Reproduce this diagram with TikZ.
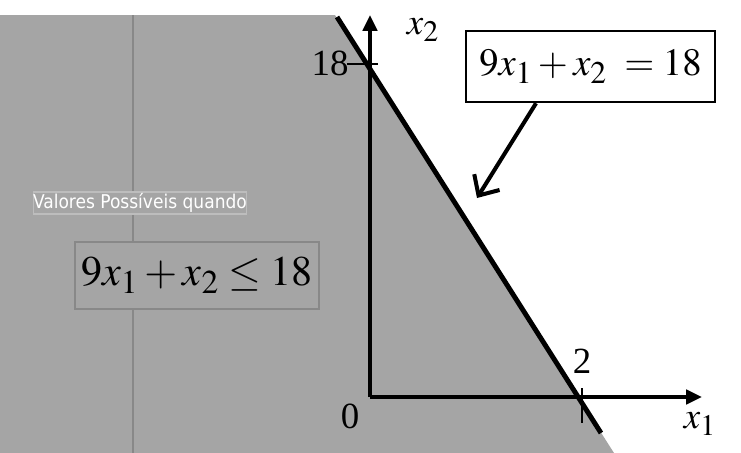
\documentclass[tikz,border=0pt]{standalone}
\usepackage{mathptmx}
\usepackage{fontspec}
\setmainfont{Liberation Serif}
\newfontfamily\notefont{DejaVu Sans Condensed}
\usetikzlibrary{arrows.meta}

\DeclareMathSizes{21}{21}{17}{13}
\DeclareMathSizes{22}{22}{18}{14}
\DeclareMathSizes{24}{24}{19}{14}

\definecolor{regiongray}{HTML}{A5A5A5}
\definecolor{edgegray}{HTML}{888888}
\definecolor{notegray}{HTML}{BDBDBD}

\begin{document}
\begin{tikzpicture}[
    x=0.02cm, y=-0.02cm,
    every node/.style={align=center},
    axis/.style={line width=2.6pt, -{Triangle[length=9pt, width=8pt]}},
    bound/.style={line width=2.8pt},
    tickmark/.style={line width=1.4pt},
    callout/.style={line width=2.3pt, -{Straight Barb[length=9pt, width=17pt, line width=2.3pt]}},
    lbl/.style={inner sep=0pt, font=\fontsize{21}{24}\selectfont},
    eqbox/.style={rectangle, draw=black, line width=1.4pt, fill=white, minimum width=4.98cm, minimum height=1.42cm, inner sep=0pt, font=\fontsize{22}{26}\selectfont},
    regionbox/.style={rectangle, draw=edgegray, line width=0.6pt, fill=regiongray, minimum width=4.88cm, minimum height=1.34cm, inner sep=0pt, font=\fontsize{24}{28}\selectfont},
    note/.style={rectangle, draw=notegray, line width=0.6pt, fill=regiongray, text=white, minimum width=4.16cm, minimum height=0.44cm, inner sep=0pt, font=\notefont\fontsize{10.8}{12}\selectfont}
]
\useasboundingbox (0,0) rectangle (741,453);

% feasible region
\fill[regiongray] (0,15) -- (335,15) -- (614,453) -- (0,453) -- cycle;
\draw[edgegray, line width=0.6pt] (133,15) -- (133,453);

% region labels
\node[note] (valores) at (140,203) {Valores Possíveis quando};
\node[regionbox] (ineq) at (197,275.5) {$9x_1 + x_2 \leq 18$};

% axes
\coordinate (O) at (370,397);
\coordinate (xend) at (702,397);
\coordinate (yend) at (370,15);
\draw[axis] (O) -- (xend);
\draw[axis] (O) -- (yend);

% ticks
\draw[tickmark] (347,64) -- (378,64);
\draw[tickmark] (582,388) -- (582,423);

% constraint line
\coordinate (ltop) at (337,17);
\coordinate (lbot) at (601,433);
\draw[bound] (ltop) -- (lbot);

% axis labels
\node[lbl] (l18) at (330,63) {18};
\node[lbl] (l0) at (350,416) {0};
\node[lbl] (l2) at (582,361) {2};
\node[lbl] (lx2) at (423,30) {$x_2$};
\node[lbl] (lx1) at (700,424) {$x_1$};

% equation callout
\node[eqbox] (eq) at (590.5,66.5) {$9x_1 + x_2 \;= 18$};
\coordinate (tip) at (477,198);
\draw[callout] (eq.214) -- (tip);

\end{tikzpicture}
\end{document}
